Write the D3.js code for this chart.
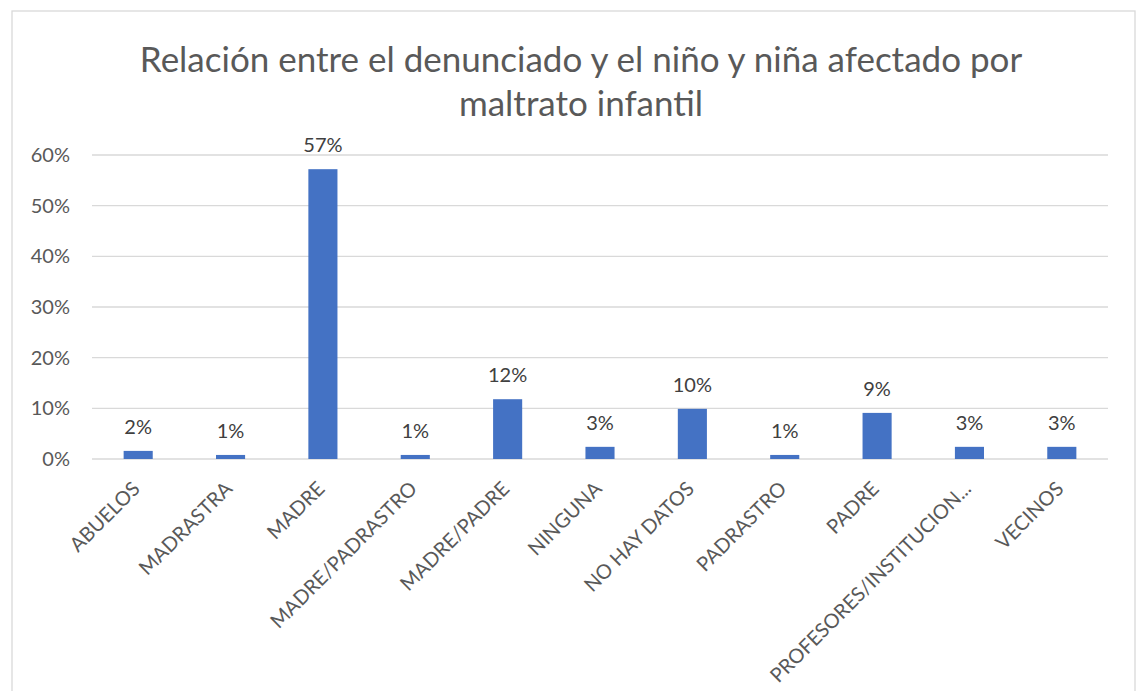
<!DOCTYPE html>
<html>
<head>
<meta charset="utf-8">
<script src="https://cdn.jsdelivr.net/npm/d3@7"></script>
<style>
  body { margin: 0; background: #fff; }
  svg text { font-family: Lato, "Open Sans", sans-serif; }
</style>
</head>
<body>
<svg id="main-svg" width="1141" height="691"></svg>
<script>
// data
var categories = ['ABUELOS', 'MADRASTRA', 'MADRE', 'MADRE/PADRASTRO', 'MADRE/PADRE', 'NINGUNA',
                  'NO HAY DATOS', 'PADRASTRO', 'PADRE', 'PROFESORES/INSTITUCION...', 'VECINOS']
var shares = [0.016, 0.008, 0.572, 0.008, 0.118, 0.024, 0.099, 0.008, 0.091, 0.024, 0.024]
var shareLabels = ['2%', '1%', '57%', '1%', '12%', '3%', '10%', '1%', '9%', '3%', '3%']
var yTicks = [0, 0.1, 0.2, 0.3, 0.4, 0.5, 0.6]
var titleLines = ['Relación entre el denunciado y el niño y niña afectado por', 'maltrato infantil']

var svg = d3.select('#main-svg')

// chart frame (bottom edge runs off the picture)
svg.append('rect')
    .attr('x', 12).attr('y', 11)
    .attr('width', 1123).attr('height', 700)
    .attr('fill', '#fff')
    .attr('stroke', '#d9d9d9')
    .attr('stroke-width', 1.3)

var plot = { left: 92, right: 1108, top: 155, bottom: 459 }

var x = d3.scaleBand()
    .domain(categories)
    .range([plot.left, plot.right])
    .paddingInner(0.685)
    .paddingOuter(0.3425)

var y = d3.scaleLinear()
    .domain([0, 0.6])
    .range([plot.bottom, plot.top])

// gridlines
svg.append('g')
    .selectAll('line')
    .data(yTicks)
    .join('line')
    .attr('x1', plot.left)
    .attr('x2', plot.right)
    .attr('y1', function(d) { return y(d) })
    .attr('y2', function(d) { return y(d) })
    .attr('stroke', '#d9d9d9')
    .attr('stroke-width', 1.3)

// y axis labels
var yAxis = d3.axisLeft(y)
    .tickValues(yTicks)
    .tickFormat(d3.format('.0%'))
    .tickSize(0)
    .tickPadding(22)
svg.append('g')
    .attr('transform', 'translate(' + plot.left + ',0)')
    .call(yAxis)
    .call(function(g) { g.select('.domain').remove() })
    .selectAll('text')
    .attr('fill', '#595959')
    .style('font-size', '20px')

// bars
svg.append('g')
    .selectAll('rect')
    .data(shares)
    .join('rect')
    .attr('x', function(d, i) { return x(categories[i]) })
    .attr('y', function(d) { return y(d) })
    .attr('width', x.bandwidth())
    .attr('height', function(d) { return y(0) - y(d) })
    .attr('fill', '#4472c4')

// value labels
svg.append('g')
    .selectAll('text')
    .data(shares)
    .join('text')
    .attr('x', function(d, i) { return x(categories[i]) + x.bandwidth() / 2 })
    .attr('y', function(d) { return y(d) - 17 })
    .attr('text-anchor', 'middle')
    .attr('fill', '#404040')
    .style('font-size', '20px')
    .text(function(d, i) { return shareLabels[i] })

// x axis labels, rotated
svg.append('g')
    .selectAll('text')
    .data(categories)
    .join('text')
    .attr('transform', function(d) {
        return 'translate(' + (x(d) + x.bandwidth() / 2 + 3) + ',490) rotate(-45)'
    })
    .attr('text-anchor', 'end')
    .attr('fill', '#595959')
    .style('font-size', '20px')
    .text(function(d) { return d })

// title
svg.append('g')
    .selectAll('text')
    .data(titleLines)
    .join('text')
    .attr('x', 581)
    .attr('y', function(d, i) { return 72 + i * 44 })
    .attr('text-anchor', 'middle')
    .attr('fill', '#595959')
    .style('font-size', '35px')
    .text(function(d) { return d })
</script>
</body>
</html>
